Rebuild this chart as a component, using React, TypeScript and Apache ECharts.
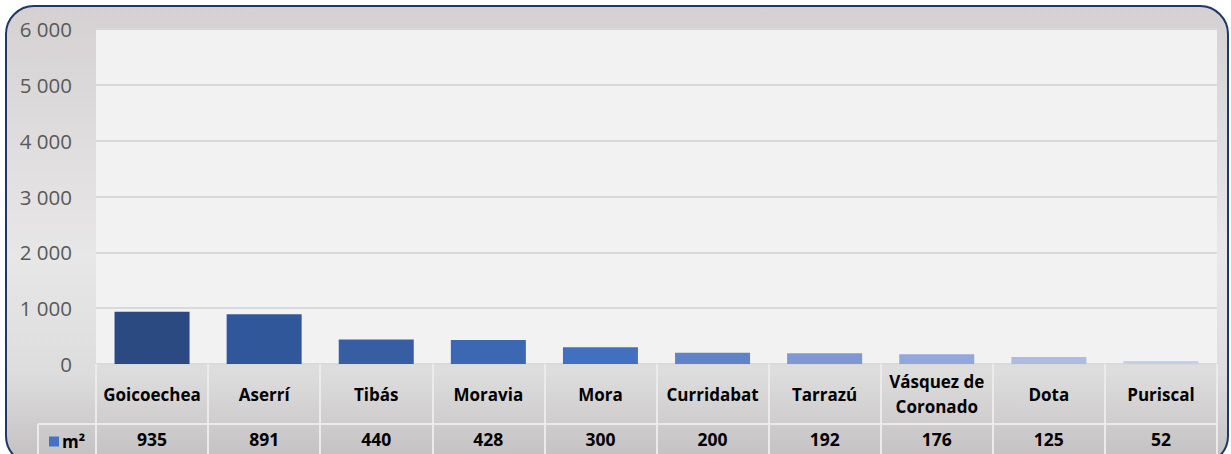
import React, { useEffect, useRef } from "react";
import * as echarts from "echarts";

const categories = ["Goicoechea", "Aserrí", "Tibás", "Moravia", "Mora", "Curridabat", "Tarrazú", "Vásquez de\nCoronado", "Dota", "Puriscal"];
const values = [935, 891, 440, 428, 300, 200, 192, 176, 125, 52];
const barColors = ["#2b4a82", "#31579b", "#375ea3", "#3c67b2", "#4270c0", "#6282c8", "#7f98d2", "#93a8da", "#aebce2", "#c6cfea"];
const seriesName = "m²";
const yTicks = [0, 1000, 2000, 3000, 4000, 5000, 6000];

const fmt = (v: number) => String(v).replace(/\B(?=(\d{3})+(?!\d))/g, " ");

export default function App() {
  const ref = useRef<HTMLDivElement>(null);
  useEffect(() => {
    if (!ref.current) return;
    const chart = echarts.init(ref.current, undefined, { renderer: "svg" });
    const font = "'Open Sans', Lato, sans-serif";
    chart.setOption({
      animation: false,
      textStyle: { fontFamily: font },
      graphic: [
        {
          type: "rect",
          z: -10,
          silent: true,
          shape: { x: 6, y: 6, width: 1222, height: 458, r: 28 },
          style: {
            fill: new echarts.graphic.LinearGradient(0, 0, 0, 1, [
              { offset: 0, color: "#d5d1d2" },
              { offset: 0.55, color: "#e8e7e7" },
              { offset: 0.8, color: "#dedddd" },
              { offset: 1, color: "#c2bfc0" },
            ]),
            stroke: "#1f3864",
            lineWidth: 2,
          },
        },
        {
          type: "line",
          z: 5,
          silent: true,
          shape: { x1: 38, y1: 424, x2: 1217, y2: 424 },
          style: { stroke: "#ebebeb", lineWidth: 2 },
        },
        {
          type: "line",
          z: 5,
          silent: true,
          shape: { x1: 38, y1: 424, x2: 38, y2: 460 },
          style: { stroke: "#ebebeb", lineWidth: 2 },
        },
      ],
      legend: {
        show: true,
        left: 44,
        top: 428,
        itemWidth: 10,
        itemHeight: 10,
        itemGap: 4,
        icon: "rect",
        textStyle: { fontFamily: font, fontSize: 17, fontWeight: "bold", color: "#000", padding: [0, 0, 0, -2] },
        data: [seriesName],
      },
      grid: {
        left: 96,
        right: 14,
        top: 29,
        bottom: 90,
        show: true,
        backgroundColor: "#f2f2f2",
        borderWidth: 0,
      },
      xAxis: [
        {
          type: "category",
          data: categories,
          position: "bottom",
          axisLine: { show: true, lineStyle: { color: "#d9d9d9", width: 2 } },
          axisTick: { show: true, length: 92, lineStyle: { color: "#ebebeb", width: 2 } },
          axisLabel: {
            interval: 0,
            margin: 30,
            verticalAlign: "middle",
            fontFamily: font,
            fontSize: 17,
            fontWeight: "bold",
            color: "#000",
            lineHeight: 25,
          },
        },
        {
          type: "category",
          data: values.map((v) => fmt(v)),
          position: "bottom",
          axisLine: { show: false },
          axisTick: { show: false },
          axisLabel: {
            interval: 0,
            margin: 75,
            verticalAlign: "middle",
            fontFamily: font,
            fontSize: 17.5,
            fontWeight: "bold",
            color: "#000",
          },
        },
      ],
      yAxis: {
        type: "value",
        min: 0,
        max: 6000,
        interval: 1000,
        axisLine: { show: false },
        axisTick: { show: false },
        splitLine: { show: true, lineStyle: { color: "#d9d9d9", width: 2 } },
        axisLabel: {
          margin: 24,
          fontFamily: font,
          fontSize: 20.5,
          color: "#595959",
          formatter: (v: number) => (yTicks.includes(v) ? fmt(v) : ""),
        },
      },
      series: [
        {
          name: seriesName,
          type: "bar",
          barWidth: 75,
          itemStyle: { color: "#4472c4" },
          data: values.map((v, i) => ({ value: v, itemStyle: { color: barColors[i] } })),
        },
      ],
    });
    return () => chart.dispose();
  }, []);
  return <div ref={ref} style={{ position: "absolute", left: 0, top: 0, width: 1231, height: 454 }} />;
}
